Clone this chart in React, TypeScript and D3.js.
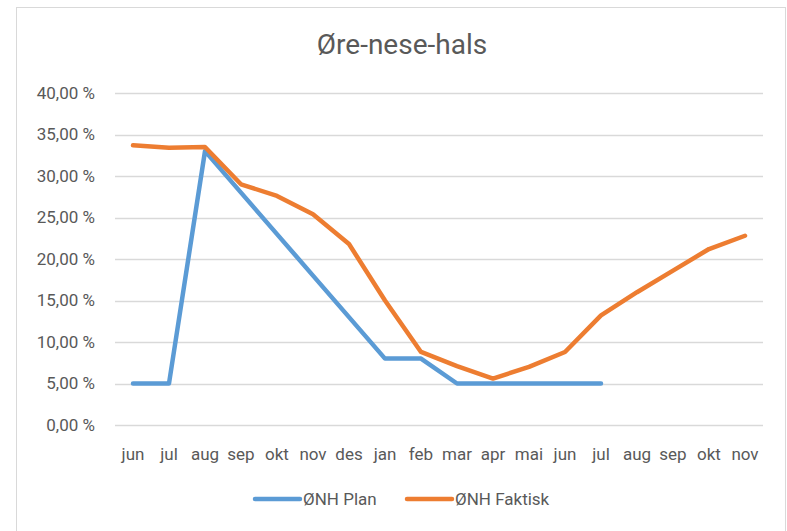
import React from 'react';
import * as d3 from 'd3';

const width = 787;
const height = 531;
const margin = { top: 93, right: 24, bottom: 106, left: 115 };

const months = ['jun', 'jul', 'aug', 'sep', 'okt', 'nov', 'des', 'jan', 'feb', 'mar', 'apr', 'mai', 'jun', 'jul', 'aug', 'sep', 'okt', 'nov'];
const planValues = [5, 5, 33, 28, 23, 18, 13, 8, 8, 5, 5, 5, 5, 5];
const faktiskValues = [33.7, 33.4, 33.5, 29.0, 27.6, 25.4, 21.8, 15.0, 8.8, 7.1, 5.6, 7.0, 8.8, 13.2, 16.0, 18.6, 21.2, 22.8];
const yTicks = [0, 5, 10, 15, 20, 25, 30, 35, 40];

const seriesNames = ['ØNH Plan', 'ØNH Faktisk'];
const colors = ['#5b9bd5', '#ed7d31'];

const font = 'Roboto, "Liberation Sans", Arial, sans-serif';

export default function App() {
  const innerW = width - margin.left - margin.right;
  const innerH = height - margin.top - margin.bottom;

  const x = d3.scaleBand<number>()
    .domain(months.map((_, i) => i))
    .range([0, innerW]);
  const y = d3.scaleLinear().domain([0, 40]).range([innerH, 0]);

  const line = d3.line<number>()
    .x((_, i) => (x(i) ?? 0) + x.bandwidth() / 2)
    .y(d => y(d));

  const fmt = (v: number) => v.toFixed(2).replace('.', ',') + ' %';

  // legend item offsets (line start)
  const legendX = [255, 407];

  return (
    <svg width={width} height={height} style={{ position: 'absolute', left: 0, top: 0, background: 'white' }}>
      <rect x={16.5} y={7.5} width={769} height={540} fill="white" stroke="#d9d9d9" />
      <text x={402} y={54} textAnchor="middle" fontFamily={font} fontSize={28} fill="#595959">Øre-nese-hals</text>
      <g transform={`translate(${margin.left},${margin.top})`}>
        {yTicks.map(t => (
          <g key={t}>
            <line x1={0} x2={innerW} y1={Math.round(y(t)) + 0.5} y2={Math.round(y(t)) + 0.5} stroke="#d9d9d9" strokeWidth={1.5} />
            <text x={-20} y={y(t)} dy="0.35em" textAnchor="end" fontFamily={font} fontSize={17} fill="#595959">{fmt(t)}</text>
          </g>
        ))}
        {months.map((m, i) => (
          <text key={i} x={(x(i) ?? 0) + x.bandwidth() / 2} y={innerH + 35} textAnchor="middle" fontFamily={font} fontSize={17} fill="#595959">{m}</text>
        ))}
        <path d={line(planValues) ?? ''} fill="none" stroke={colors[0]} strokeWidth={4.5} strokeLinejoin="round" strokeLinecap="round" />
        <path d={line(faktiskValues) ?? ''} fill="none" stroke={colors[1]} strokeWidth={4.5} strokeLinejoin="round" strokeLinecap="round" />
      </g>
      {seriesNames.map((s, i) => (
        <g key={s} transform={`translate(${legendX[i]},499)`}>
          <line x1={0} x2={45} y1={0} y2={0} stroke={colors[i]} strokeWidth={4.5} strokeLinecap="round" />
          <text x={48} y={0} dy="0.35em" fontFamily={font} fontSize={17} fill="#595959">{s}</text>
        </g>
      ))}
    </svg>
  );
}
